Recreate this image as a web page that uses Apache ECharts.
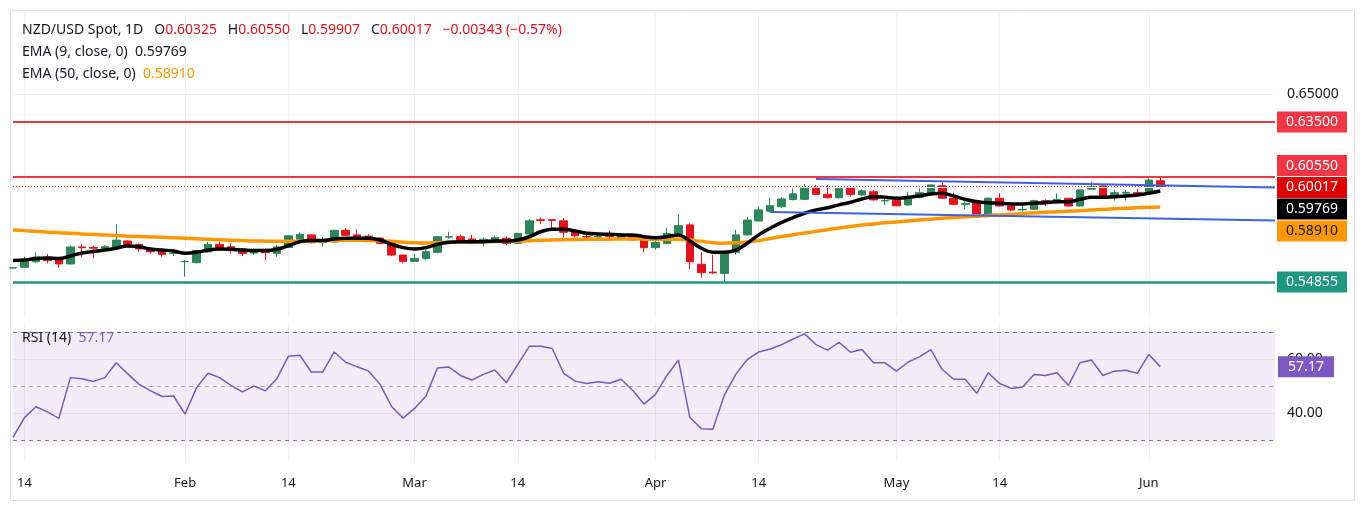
<!DOCTYPE html>
<html>
<head>
<meta charset="utf-8">
<title>NZD/USD Spot, 1D</title>
<script src="https://cdn.jsdelivr.net/npm/echarts@6/dist/echarts.min.js"></script>
<style>
  html, body { margin: 0; padding: 0; background: #fff; }
  #chart { width: 1365px; height: 513px; }
</style>
</head>
<body>
<div id="chart"></div>
<script>
// trading days shown on the time axis (Good Friday missing), last 10 are empty space on the right
const janDays = [13, 14, 15, 16, 17, 20, 21, 22, 23, 24, 27, 28, 29, 30, 31]
const febDays = [3, 4, 5, 6, 7, 10, 11, 12, 13, 14, 17, 18, 19, 20, 21, 24, 25, 26, 27, 28]
const marDays = [3, 4, 5, 6, 7, 10, 11, 12, 13, 14, 17, 18, 19, 20, 21, 24, 25, 26, 27, 28, 31]
const aprDays = [1, 2, 3, 4, 7, 8, 9, 10, 11, 14, 15, 16, 17, 21, 22, 23, 24, 25, 28, 29, 30]
const mayDays = [1, 2, 5, 6, 7, 8, 9, 12, 13, 14, 15, 16, 19, 20, 21, 22, 23, 26, 27, 28, 29, 30]
const junDays = [2, 3, 4, 5, 6, 9, 10, 11, 12, 13, 16, 17]

const tickDates = ['2025-01-14', '2025-02-03', '2025-02-14', '2025-03-03', '2025-03-14',
  '2025-04-01', '2025-04-14', '2025-05-01', '2025-05-14', '2025-06-02']
const tickTexts = ['14', 'Feb', '14', 'Mar', '14', 'Apr', '14', 'May', '14', 'Jun']

const opens = [0.5561, 0.5565, 0.5595, 0.5620, 0.5608, 0.5583, 0.5675, 0.5672, 0.5668, 0.5675,
  0.5707, 0.5689, 0.5664, 0.5653, 0.5640, 0.5595, 0.5590, 0.5648, 0.5689, 0.5676,
  0.5664, 0.5642, 0.5660, 0.5640, 0.5672, 0.5716, 0.5740, 0.5700, 0.5702, 0.5765,
  0.5740, 0.5733, 0.5723, 0.5694, 0.5631, 0.5597, 0.5613, 0.5646, 0.5728, 0.5730,
  0.5718, 0.5698, 0.5707, 0.5722, 0.5694, 0.5745, 0.5822, 0.5822, 0.5816, 0.5757,
  0.5731, 0.5729, 0.5735, 0.5721, 0.5740, 0.5718, 0.5671, 0.5694, 0.5748, 0.5794,
  0.5581, 0.5539, 0.5532, 0.5646, 0.5740, 0.5815, 0.5868, 0.5892, 0.5931, 0.5932,
  0.5995, 0.5959, 0.5941, 0.5992, 0.5956, 0.5973, 0.5924, 0.5927, 0.5902, 0.5943,
  0.5964, 0.6005, 0.5938, 0.5905, 0.5925, 0.5853, 0.5938, 0.5896, 0.5875, 0.5878,
  0.5925, 0.5914, 0.5938, 0.5896, 0.5987, 0.6004, 0.5946, 0.5965, 0.5968, 0.5961,
  0.60325]
const highs = [0.5566, 0.5622, 0.5646, 0.5637, 0.5621, 0.5682, 0.5690, 0.5682, 0.5686, 0.5797,
  0.5711, 0.5695, 0.5671, 0.5667, 0.5660, 0.5604, 0.5657, 0.5703, 0.5703, 0.5695,
  0.5667, 0.5667, 0.5667, 0.5684, 0.5738, 0.5752, 0.5744, 0.5730, 0.5767, 0.5776,
  0.5768, 0.5743, 0.5728, 0.5698, 0.5632, 0.5635, 0.5659, 0.5733, 0.5757, 0.5741,
  0.5740, 0.5725, 0.5736, 0.5731, 0.5752, 0.5826, 0.5834, 0.5823, 0.5829, 0.5766,
  0.5748, 0.5748, 0.5761, 0.5750, 0.5745, 0.5720, 0.5707, 0.5779, 0.5851, 0.5803,
  0.5646, 0.5632, 0.5648, 0.5767, 0.5838, 0.5892, 0.5941, 0.5944, 0.5992, 0.6015,
  0.6010, 0.6010, 0.5997, 0.5997, 0.5985, 0.5983, 0.5941, 0.5950, 0.5973, 0.5992,
  0.6012, 0.6022, 0.5968, 0.5924, 0.5930, 0.5943, 0.5965, 0.5900, 0.5910, 0.5930,
  0.5932, 0.5965, 0.5940, 0.5986, 0.6027, 0.6015, 0.5983, 0.5983, 0.5989, 0.6048,
  0.6055]
const lows = [0.5557, 0.5563, 0.5590, 0.5587, 0.5563, 0.5579, 0.5621, 0.5614, 0.5658, 0.5671,
  0.5682, 0.5649, 0.5638, 0.5622, 0.5626, 0.5514, 0.5585, 0.5645, 0.5658, 0.5638,
  0.5625, 0.5632, 0.5604, 0.5622, 0.5670, 0.5710, 0.5693, 0.5676, 0.5699, 0.5735,
  0.5712, 0.5712, 0.5689, 0.5625, 0.5586, 0.5595, 0.5605, 0.5641, 0.5718, 0.5707,
  0.5692, 0.5676, 0.5695, 0.5684, 0.5692, 0.5743, 0.5799, 0.5776, 0.5725, 0.5725,
  0.5712, 0.5712, 0.5718, 0.5716, 0.5708, 0.5646, 0.5659, 0.5689, 0.5735, 0.5556,
  0.5509, 0.5527, 0.5486, 0.5632, 0.5737, 0.5813, 0.5862, 0.5884, 0.5926, 0.5927,
  0.5957, 0.5936, 0.5936, 0.5947, 0.5950, 0.5925, 0.5901, 0.5895, 0.5897, 0.5940,
  0.5962, 0.5935, 0.5900, 0.5878, 0.5850, 0.5848, 0.5892, 0.5868, 0.5865, 0.5875,
  0.5896, 0.5910, 0.5893, 0.5893, 0.5985, 0.5940, 0.5925, 0.5925, 0.5956, 0.5958,
  0.59907]
const closes = [0.5563, 0.5595, 0.5620, 0.5601, 0.5583, 0.5675, 0.5671, 0.5668, 0.5676, 0.5712,
  0.5689, 0.5664, 0.5649, 0.5635, 0.5641, 0.5597, 0.5655, 0.5689, 0.5671, 0.5657,
  0.5640, 0.5658, 0.5644, 0.5675, 0.5735, 0.5743, 0.5698, 0.5703, 0.5765, 0.5738,
  0.5718, 0.5718, 0.5694, 0.5631, 0.5597, 0.5613, 0.5649, 0.5730, 0.5730, 0.5709,
  0.5694, 0.5716, 0.5725, 0.5694, 0.5748, 0.5816, 0.5818, 0.5818, 0.5754, 0.5735,
  0.5729, 0.5731, 0.5731, 0.5743, 0.5713, 0.5671, 0.5700, 0.5748, 0.5790, 0.5595,
  0.5536, 0.5535, 0.5646, 0.5740, 0.5820, 0.5875, 0.5898, 0.5934, 0.5962, 0.5995,
  0.5959, 0.5941, 0.5992, 0.5959, 0.5978, 0.5929, 0.5926, 0.5897, 0.5943, 0.5968,
  0.6010, 0.5938, 0.5905, 0.5910, 0.5853, 0.5938, 0.5896, 0.5874, 0.5878, 0.5925,
  0.5911, 0.5932, 0.5896, 0.5983, 0.6000, 0.5946, 0.5968, 0.5970, 0.5961, 0.6036,
  0.60017]

const ema9 = [0.5602, 0.5604, 0.5612, 0.5615, 0.5612, 0.5626, 0.5642, 0.5650, 0.5658, 0.5668,
  0.5680, 0.5676, 0.5664, 0.5658, 0.5653, 0.5641, 0.5646, 0.5658, 0.5664, 0.5662,
  0.5658, 0.5655, 0.5655, 0.5662, 0.5682, 0.5703, 0.5709, 0.5709, 0.5718, 0.5722,
  0.5722, 0.5722, 0.5712, 0.5689, 0.5671, 0.5664, 0.5671, 0.5689, 0.5700, 0.5703,
  0.5703, 0.5703, 0.5707, 0.5707, 0.5712, 0.5730, 0.5757, 0.5770, 0.5770, 0.5761,
  0.5749, 0.5745, 0.5743, 0.5740, 0.5740, 0.5730, 0.5725, 0.5730, 0.5740, 0.5707,
  0.5668, 0.5646, 0.5646, 0.5658, 0.5695, 0.5740, 0.5776, 0.5808, 0.5833, 0.5857,
  0.5875, 0.5887, 0.5902, 0.5916, 0.5934, 0.5946, 0.5943, 0.5938, 0.5943, 0.5950,
  0.5961, 0.5965, 0.5950, 0.5932, 0.5919, 0.5914, 0.5911, 0.5907, 0.5907, 0.5911,
  0.5914, 0.5919, 0.5919, 0.5932, 0.5943, 0.5943, 0.5946, 0.5950, 0.5956, 0.5965,
  0.59769]
const ema50 = [0.5766, 0.5763, 0.5759, 0.5756, 0.5752, 0.5749, 0.5745, 0.5742, 0.5739, 0.5736,
  0.5733, 0.5731, 0.5729, 0.5727, 0.5724, 0.5722, 0.5719, 0.5716, 0.5714, 0.5711,
  0.5709, 0.5707, 0.5706, 0.5705, 0.5705, 0.5706, 0.5707, 0.5708, 0.5710, 0.5711,
  0.5711, 0.5710, 0.5708, 0.5705, 0.5700, 0.5697, 0.5696, 0.5698, 0.5700, 0.5701,
  0.5702, 0.5703, 0.5704, 0.5704, 0.5706, 0.5708, 0.5711, 0.5713, 0.5714, 0.5715,
  0.5716, 0.5717, 0.5717, 0.5718, 0.5718, 0.5717, 0.5716, 0.5716, 0.5717, 0.5712,
  0.5705, 0.5698, 0.5695, 0.5697, 0.5702, 0.5710, 0.5720, 0.5731, 0.5741, 0.5750,
  0.5759, 0.5768, 0.5777, 0.5785, 0.5793, 0.5799, 0.5805, 0.5810, 0.5815, 0.5820,
  0.5825, 0.5830, 0.5834, 0.5838, 0.5841, 0.5845, 0.5848, 0.5851, 0.5855, 0.5859,
  0.5862, 0.5865, 0.5867, 0.5870, 0.5874, 0.5878, 0.5881, 0.5884, 0.5886, 0.5889,
  0.5891]

const rsi = [31.0, 38.3, 42.3, 40.4, 38.0, 53.1, 52.7, 51.7, 53.1, 58.6,
  54.5, 50.6, 48.2, 46.1, 46.3, 39.6, 49.4, 54.7, 53.1, 50.2,
  47.8, 50.0, 48.2, 52.7, 61.0, 61.4, 55.2, 55.2, 62.6, 58.8,
  57.1, 55.5, 50.6, 42.4, 38.1, 41.7, 46.3, 56.7, 57.0, 53.9,
  52.2, 54.3, 55.9, 51.2, 58.0, 64.7, 64.7, 63.9, 54.7, 51.8,
  50.9, 51.6, 51.0, 52.5, 48.4, 43.3, 46.9, 53.9, 59.6, 38.3,
  34.2, 34.0, 46.6, 54.3, 59.8, 62.6, 63.7, 65.3, 67.4, 69.3,
  65.3, 63.3, 66.2, 62.5, 63.5, 58.6, 58.6, 55.5, 58.8, 60.8,
  63.5, 56.1, 52.5, 52.5, 47.3, 54.9, 50.9, 49.1, 49.6, 54.3,
  53.9, 54.9, 50.2, 58.6, 59.6, 53.9, 55.5, 55.8, 54.7, 61.7,
  57.17]

// drawn levels
const resistanceHigh = 0.635
const resistanceLow = 0.6055
const supportLevel = 0.54855
const upperTrend = ['2025-04-22', 0.6042, 0.5996]
const lowerTrend = ['2025-04-15', 0.5864, 0.5818]

const FONT = '"Noto Sans", "Liberation Sans", sans-serif'
const UP = '#2d855a'
const DOWN = '#e3131b'
const RED_LINE = '#f23645'

const pad = (d) => (d < 10 ? '0' + d : '' + d)
const dates = [].concat(
  janDays.map((d) => '2025-01-' + pad(d)),
  febDays.map((d) => '2025-02-' + pad(d)),
  marDays.map((d) => '2025-03-' + pad(d)),
  aprDays.map((d) => '2025-04-' + pad(d)),
  mayDays.map((d) => '2025-05-' + pad(d)),
  junDays.map((d) => '2025-06-' + pad(d)),
)
const lastCat = dates[dates.length - 1]
const isTick = (i, v) => tickDates.indexOf(v) >= 0
const candles = opens.map((o, i) => [o, closes[i], lows[i], highs[i]])

function box(text, value, dy, bg, fg, w, dx) {
  return {
    name: text,
    coord: [lastCat, value],
    symbol: 'rect',
    symbolSize: [w || 70, 21],
    symbolOffset: [dx || 37, dy],
    itemStyle: { color: bg },
    label: { show: true, position: 'inside', formatter: '{b}', color: fg || '#fff', fontSize: 14, fontFamily: FONT },
  }
}

function legend(top, text, rich) {
  return {
    left: 22, top, padding: 0, text,
    textStyle: { fontWeight: 'normal', fontSize: 14, fontFamily: FONT, rich },
  }
}
const txt = (color) => ({ color, fontSize: 14, fontWeight: 'normal', fontFamily: FONT })

const chart = echarts.init(document.getElementById('chart'))

chart.setOption({
  animation: false,
  backgroundColor: '#fff',
  textStyle: { fontFamily: FONT },
  graphic: [{
    type: 'rect',
    shape: { x: 10.5, y: 10.5, width: 1344, height: 490 },
    style: { fill: 'none', stroke: '#e0e3eb', lineWidth: 1 },
    z: -10,
  }],
  title: [
    legend(23, '{n|NZD/USD Spot, 1D}   {n|O}{v|0.60325}   {n|H}{v|0.60550}   {n|L}{v|0.59907}   {n|C}{v|0.60017}   {v|\u22120.00343 (\u22120.57%)}',
      { n: txt('#131722'), v: txt(DOWN) }),
    legend(45, '{n|EMA (9, close, 0)}  {v|0.59769}', { n: txt('#131722'), v: txt('#131722') }),
    legend(67, '{n|EMA (50, close, 0)}  {v|0.58910}', { n: txt('#131722'), v: txt('#ff9800') }),
    legend(331, '{n|RSI (14)}  {v|57.17}', { n: txt('#131722'), v: txt('#7e57c2') }),
  ],
  grid: [
    { left: 13, right: 90, top: 12, height: 306 },
    { left: 13, right: 90, top: 322, height: 140 },
  ],
  xAxis: [
    {
      type: 'category', gridIndex: 0, data: dates, boundaryGap: false,
      axisLine: { show: false }, axisTick: { show: false }, axisLabel: { show: false },
      splitLine: { show: true, interval: isTick, lineStyle: { color: '#eef0f4' } },
    },
    {
      type: 'category', gridIndex: 1, data: dates, boundaryGap: false,
      axisLine: { show: false }, axisTick: { show: false },
      axisLabel: {
        interval: isTick, margin: 15, color: '#131722', fontSize: 13,
        formatter: (v) => tickTexts[tickDates.indexOf(v)] || '',
      },
      splitLine: { show: true, interval: isTick, lineStyle: { color: '#eef0f4' } },
    },
  ],
  yAxis: [
    {
      type: 'value', gridIndex: 0, position: 'right', min: 0.5291, max: 0.6944, scale: true,
      axisLine: { show: false }, axisTick: { show: false }, splitLine: { show: false },
      axisLabel: { customValues: [0.65], margin: 12, color: '#131722', fontSize: 14, formatter: (v) => v.toFixed(5) },
    },
    {
      type: 'value', gridIndex: 1, position: 'right', min: 21.85, max: 73.7,
      axisLine: { show: false }, axisTick: { show: false }, splitLine: { show: false },
      axisLabel: { customValues: [40, 60], margin: 12, color: '#131722', fontSize: 14, formatter: (v) => v.toFixed(2) },
    },
  ],
  series: [
    {
      name: 'NZD/USD',
      type: 'candlestick',
      xAxisIndex: 0, yAxisIndex: 0,
      data: candles,
      barWidth: '70%',
      itemStyle: { color: UP, color0: DOWN, borderColor: UP, borderColor0: DOWN, borderWidth: 1 },
    },
    {
      name: 'EMA 50',
      type: 'line',
      xAxisIndex: 0, yAxisIndex: 0,
      data: ema50,
      smooth: 0.4, symbol: 'none', clip: false,
      lineStyle: { color: '#ff9800', width: 3.5 },
      markPoint: { data: [box('0.58910', 0.5891, 24, '#ff9800', '#131722')] },
    },
    {
      name: 'EMA 9',
      type: 'line',
      xAxisIndex: 0, yAxisIndex: 0,
      data: ema9,
      smooth: 0.4, symbol: 'none', clip: false,
      lineStyle: { color: '#000', width: 3.5 },
      markLine: {
        symbol: ['none', 'none'], silent: true, precision: 5,
        label: { show: false },
        data: [
          { yAxis: 0.65, lineStyle: { color: '#eef0f4', width: 1, type: 'solid' } },
          { yAxis: 0.60, lineStyle: { color: '#f3f4f7', width: 1, type: 'solid' } },
          { yAxis: resistanceHigh, lineStyle: { color: RED_LINE, width: 2, type: 'solid' } },
          { yAxis: resistanceLow, lineStyle: { color: RED_LINE, width: 2, type: 'solid' } },
          { yAxis: supportLevel, lineStyle: { color: '#1e9880', width: 2.5, type: 'solid' } },
          { yAxis: closes[closes.length - 1], lineStyle: { color: DOWN, width: 1, type: [1, 2] } },
          [
            { coord: [upperTrend[0], upperTrend[1]], lineStyle: { color: '#3f63e0', width: 2, type: 'solid' } },
            { coord: [lastCat, upperTrend[2]] },
          ],
          [
            { coord: [lowerTrend[0], lowerTrend[1]], lineStyle: { color: '#3f63e0', width: 2, type: 'solid' } },
            { coord: [lastCat, lowerTrend[2]] },
          ],
        ],
      },
      markPoint: {
        data: [
          box('0.63500', resistanceHigh, 0, RED_LINE),
          box('0.60550', resistanceLow, -11, RED_LINE),
          box('0.60017', closes[closes.length - 1], 1, '#e00000'),
          box('0.59769', ema9[ema9.length - 1], 18, '#000'),
          box('0.54855', supportLevel, 0, '#1e9880'),
        ],
      },
    },
    {
      name: 'RSI',
      type: 'line',
      xAxisIndex: 1, yAxisIndex: 1,
      data: rsi,
      symbol: 'none', clip: false,
      lineStyle: { color: '#7e57c2', width: 1.5 },
      markArea: {
        silent: true,
        itemStyle: { color: 'rgba(126,87,194,0.1)' },
        data: [[{ yAxis: 70 }, { yAxis: 30 }]],
      },
      markLine: {
        symbol: ['none', 'none'], silent: true, precision: 2,
        label: { show: false },
        data: [
          { yAxis: 60, lineStyle: { color: 'rgba(120,123,134,0.12)', width: 1, type: 'solid' } },
          { yAxis: 40, lineStyle: { color: 'rgba(120,123,134,0.12)', width: 1, type: 'solid' } },
          { yAxis: 70, lineStyle: { color: '#787b86', width: 1, type: [4, 4] } },
          { yAxis: 50, lineStyle: { color: 'rgba(120,123,134,0.6)', width: 1, type: [4, 4] } },
          { yAxis: 30, lineStyle: { color: '#787b86', width: 1, type: [4, 4] } },
        ],
      },
      markPoint: { data: [box('57.17', 57.17, 0, '#7e57c2', '#fff', 56, 31)] },
    },
  ],
})
</script>
</body>
</html>
